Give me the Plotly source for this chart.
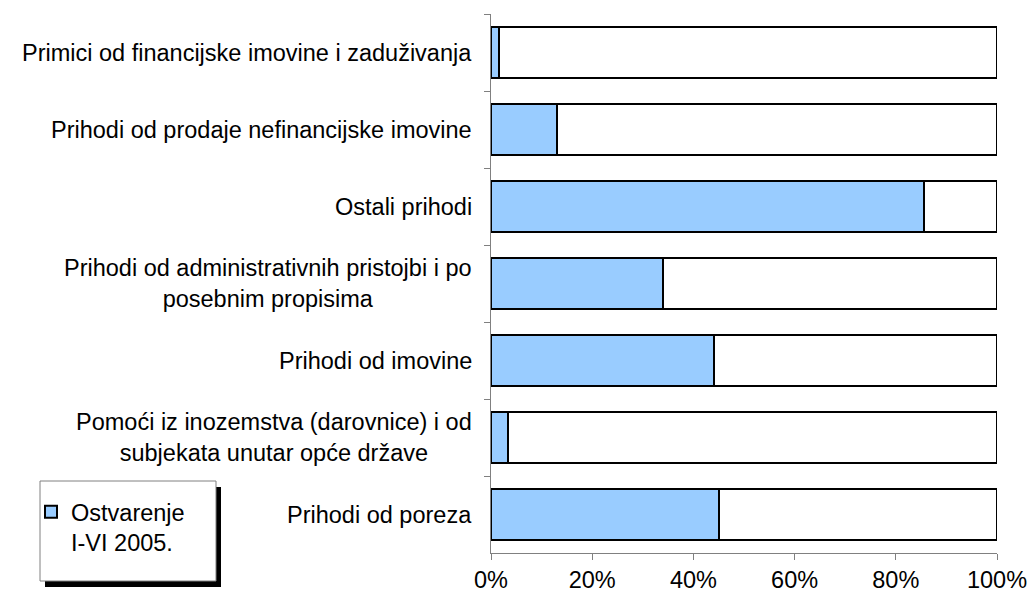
import plotly.graph_objects as go

# categories top to bottom, share of plan achieved
categories = [
    "Primici od financijske imovine i zaduživanja",
    "Prihodi od prodaje nefinancijske imovine",
    "Ostali prihodi",
    "Prihodi od administrativnih pristojbi i po<br>posebnim propisima",
    "Prihodi od imovine",
    "Pomoći iz inozemstva (darovnice) i od<br>subjekata unutar opće države",
    "Prihodi od poreza",
]
ostvarenje = [0.015, 0.13, 0.855, 0.34, 0.44, 0.034, 0.45]
ostatak = [1 - v for v in ostvarenje]
series_name = "Ostvarenje<br>I-VI 2005."

FONT = "Liberation Sans, Arial, sans-serif"
FS = 23.5

fig = go.Figure()
fig.add_trace(go.Bar(
    y=categories, x=ostvarenje, orientation="h", name=series_name,
    marker=dict(color="#99CCFF", line=dict(color="black", width=2)),
))
fig.add_trace(go.Bar(
    y=categories, x=ostatak, orientation="h", showlegend=False,
    marker=dict(color="white", line=dict(color="black", width=2)),
))

# centred multi-line category labels
for c in categories:
    fig.add_annotation(x=0, xref="paper", y=c, yref="y", text=c, showarrow=False,
                       xanchor="right", xshift=-17, align="center",
                       font=dict(family=FONT, size=FS, color="black"))

# legend box with shadow
fig.add_shape(type="rect", xref="paper", yref="paper", xsizemode="pixel", ysizemode="pixel",
              xanchor=0, yanchor=0, x0=-446, x1=-270, y0=-34, y1=66,
              fillcolor="black", line=dict(width=0))
fig.add_shape(type="rect", xref="paper", yref="paper", xsizemode="pixel", ysizemode="pixel",
              xanchor=0, yanchor=0, x0=-451, x1=-275, y0=-28, y1=72,
              fillcolor="white", line=dict(color="#808080", width=1))

fig.update_layout(
    barmode="stack", bargap=0.325,
    width=1029, height=595,
    margin=dict(l=491, r=32, t=14, b=42, autoexpand=False),
    paper_bgcolor="white", plot_bgcolor="white",
    font=dict(family=FONT, size=FS, color="black"),
    legend=dict(x=-460 / 506, y=63 / 539, xanchor="left", yanchor="top",
                bgcolor="rgba(0,0,0,0)", borderwidth=0, valign="top",
                font=dict(family=FONT, size=FS, color="black")),
    xaxis=dict(range=[0, 1], dtick=0.2, tickformat=".0%", showgrid=False, zeroline=False,
               showline=True, linecolor="#808080", linewidth=1,
               ticks="outside", ticklen=6, tickcolor="#808080"),
    yaxis=dict(autorange="reversed", showticklabels=False, showgrid=False, zeroline=False,
               showline=True, linecolor="#808080", linewidth=1,
               ticks="outside", tickson="boundaries", ticklen=6, tickcolor="#808080"),
)

# drop the browser's default body margin so the figure fills the window exactly
fig.write_html("out.html", config={"displayModeBar": False},
               post_script="document.body.style.margin='0';document.body.style.overflow='hidden';")
